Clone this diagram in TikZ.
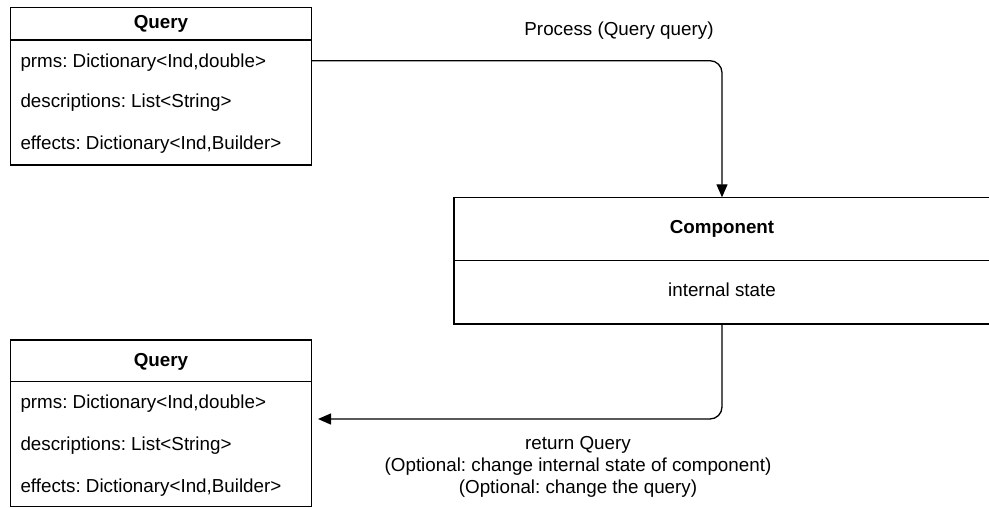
\documentclass[tikz,border=0pt]{standalone}
\usepackage{fontspec}
\setmainfont{Liberation Sans}
\usetikzlibrary{arrows.meta}
\frenchspacing
\begin{document}
\begin{tikzpicture}[x=1pt,y=-1pt,
  every node/.style={font=\fontsize{18.8}{22}\selectfont, inner sep=0pt, outer sep=0pt},
  umlbox/.style={draw, line width=1.3pt, anchor=north west},
  sepline/.style={line width=1.3pt},
  rowtxt/.style={anchor=west, text height=13.7pt, text depth=4pt},
  headtxt/.style={font=\fontsize{18.8}{22}\selectfont\bfseries, text height=13.7pt, text depth=4pt},
  conn/.style={line width=1.3pt, rounded corners=12pt, -{Triangle[length=13pt,width=11pt]}}
]
\useasboundingbox (0,0) rectangle (989,509);
\clip (0,0) rectangle (989,509);

% top Query
\node[umlbox, minimum width=301pt, minimum height=157.7pt] (q1) at (10.7,7.3) {};
\draw[sepline] (q1.west |- 0,40) -- (q1.east |- 0,40);
\node[headtxt] (q1h) at (161,23.3) {Query};
\node[rowtxt] (q1a) at (20.5,63) {prms: Dictionary<Ind,double>};
\node[rowtxt] (q1b) at (20.5,103) {descriptions: List<String>};
\node[rowtxt] (q1c) at (20.5,145) {effects: Dictionary<Ind,Builder>};

% bottom Query
\node[umlbox, minimum width=301pt, minimum height=166.7pt] (q2) at (10.7,340) {};
\draw[sepline] (q2.west |- 0,381.7) -- (q2.east |- 0,381.7);
\node[headtxt] (q2h) at (161,362) {Query};
\node[rowtxt] (q2a) at (20.5,403.5) {prms: Dictionary<Ind,double>};
\node[rowtxt] (q2b) at (20.5,445.5) {descriptions: List<String>};
\node[rowtxt] (q2c) at (20.5,488) {effects: Dictionary<Ind,Builder>};

% Component (right border lies just outside the picture)
\node[umlbox, minimum width=542pt, minimum height=126.7pt] (comp) at (454,197.3) {};
\draw[sepline] (comp.west |- 0,260.5) -- (comp.east |- 0,260.5);
\node[headtxt] (comph) at (722,229) {Component};
\node[text height=13.7pt, text depth=4pt] (compb) at (722,292) {internal state};

% connectors
\coordinate (retend) at (318,419);
\draw[conn] (q1.east |- 0,60.7) -| (comph |- comp.north);
\draw[conn] (comph |- comp.south) |- (retend);

% labels
\node (lproc) at (619,31) {Process (Query query)};
\node[align=center] (lret) at (578,466.5) {return Query\\(Optional: change internal state of component)\\(Optional: change the query)};
\end{tikzpicture}
\end{document}
